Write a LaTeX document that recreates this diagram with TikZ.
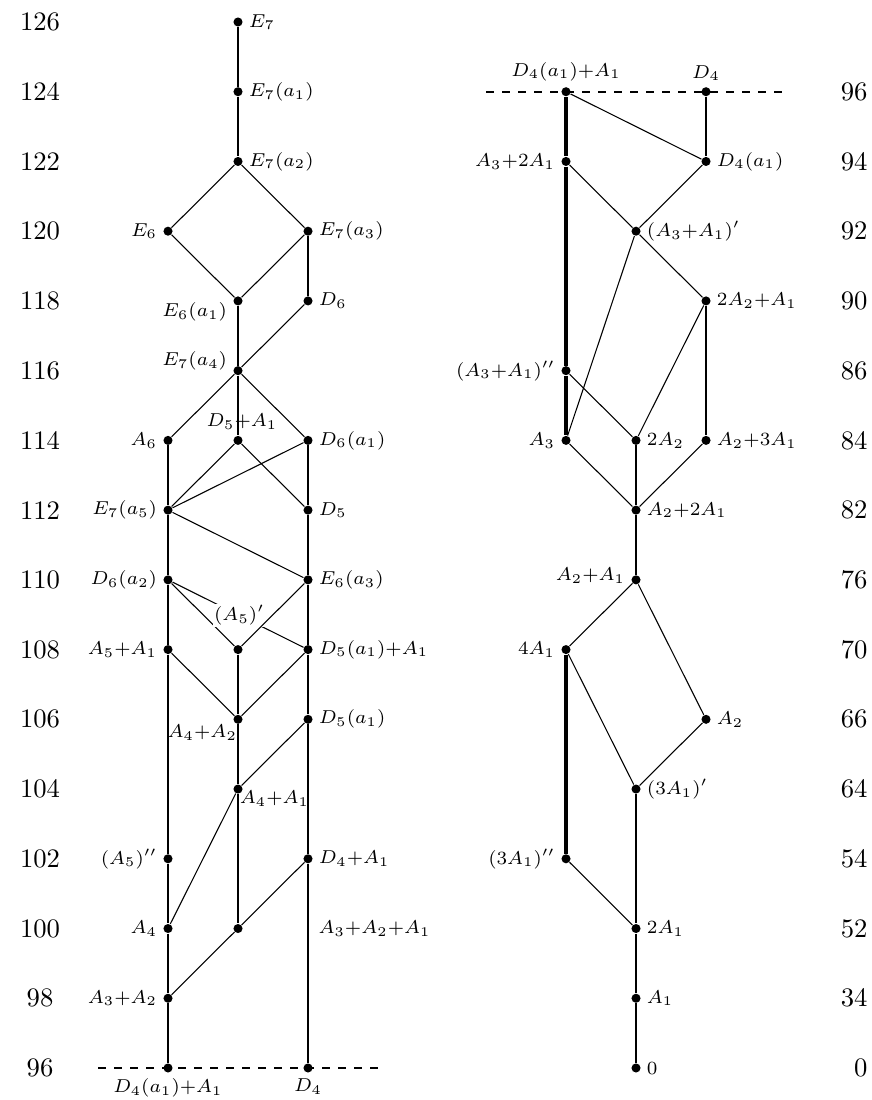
\documentclass[tikz,border=0pt]{standalone}
\newcommand\mylab[1]{$\scriptstyle #1$}
\begin{document}
\begin{tikzpicture}[x={(0.375pt,0)}, y={(0,-26.149pt)},
  dot/.style={circle, fill=black, inner sep=0pt, minimum size=3.4pt},
  lab/.style={inner sep=2pt, font=\normalsize},
  thinedge/.style={line width=0.4pt},
  thickedge/.style={line width=0.9pt},
  vthickedge/.style={line width=1.4pt},
  num/.style={inner sep=0pt, font=\normalsize},
  dashline/.style={dashed, line width=0.6pt},
]
\useasboundingbox (0,-0.3155) rectangle (871,15.4593);

% ---------- left diagram ----------
\node[dot,label={[lab]right:{\mylab{E_7}}}] (e7) at (238,0) {};
\node[dot,label={[lab]right:{\mylab{E_7(a_1)}}}] (e7a1) at (238,1) {};
\node[dot,label={[lab]right:{\mylab{E_7(a_2)}}}] (e7a2) at (238,2) {};
\node[dot,label={[lab]left:{\mylab{E_6}}}] (e6) at (168,3) {};
\node[dot,label={[lab]right:{\mylab{E_7(a_3)}}}] (e7a3) at (308,3) {};
\node[dot,label={[lab,yshift=-4.1pt]left:{\mylab{E_6(a_1)}}}] (e6a1) at (238,4) {};
\node[dot,label={[lab]right:{\mylab{D_6}}}] (d6) at (308,4) {};
\node[dot,label={[lab,yshift=3.7pt]left:{\mylab{E_7(a_4)}}}] (e7a4) at (238,5) {};
\node[dot,label={[lab]left:{\mylab{A_6}}}] (a6) at (168,6) {};
\node[dot,label={[lab,xshift=1.5pt]above:{\mylab{D_5+A_1}}}] (d5pa1) at (238,6) {};
\node[dot,label={[lab]right:{\mylab{D_6(a_1)}}}] (d6a1) at (308,6) {};
\node[dot,label={[lab]left:{\mylab{E_7(a_5)}}}] (e7a5) at (168,7) {};
\node[dot,label={[lab]right:{\mylab{D_5}}}] (d5) at (308,7) {};
\node[dot,label={[lab]left:{\mylab{D_6(a_2)}}}] (d6a2) at (168,8) {};
\node[dot,label={[lab]right:{\mylab{E_6(a_3)}}}] (e6a3) at (308,8) {};
\node[dot,label={[lab]left:{\mylab{A_5+A_1}}}] (a5a1) at (168,9) {};
\node[dot] (a5p) at (238,9) {};
\node[dot,label={[lab]right:{\mylab{D_5(a_1)+A_1}}}] (d5a1a1) at (308,9) {};
\node[dot,label={[lab,xshift=3.7pt,yshift=-4.9pt]left:{\mylab{A_4+A_2}}}] (a4a2) at (238,10) {};
\node[dot,label={[lab]right:{\mylab{D_5(a_1)}}}] (d5a1) at (308,10) {};
\node[dot,label={[lab,xshift=-3.4pt,yshift=-3.7pt]right:{\mylab{A_4+A_1}}}] (a4a1) at (238,11) {};
\node[dot,label={[lab]left:{\mylab{(A_5)''}}}] (a5pp) at (168,12) {};
\node[dot,label={[lab]right:{\mylab{D_4+A_1}}}] (d4pa1) at (308,12) {};
\node[dot,label={[lab]left:{\mylab{A_4}}}] (a4) at (168,13) {};
\node[dot] (a3a2a1) at (238,13) {};
\node[lab,anchor=west,inner sep=0pt] (a3a2a1t) at (318,13) {\mylab{A_3+A_2+A_1}};
\node[dot,label={[lab]left:{\mylab{A_3+A_2}}}] (a3a2) at (168,14) {};
\node[dot,label={[lab]below:{\mylab{D_4(a_1)+A_1}}}] (ld4a1a1) at (168,15) {};
\node[dot,label={[lab]below:{\mylab{D_4}}}] (ld4) at (308,15) {};
\coordinate (dl1) at (98,15);
\coordinate (dl2) at (378,15);

\draw[dashline] (dl1) -- (dl2);
% thick
\draw[thickedge] (e7) -- (e7a1) -- (e7a2);
\draw[thickedge] (e7a3) -- (d6);
\draw[thickedge] (e6a1) -- (e7a4) -- (d5pa1);
\draw[thickedge] (a6) -- (e7a5) -- (d6a2) -- (a5a1) -- (a5pp) -- (a4) -- (a3a2) -- (ld4a1a1);
\draw[thickedge] (d6a1) -- (d5) -- (e6a3) -- (d5a1a1) -- (d5a1) -- (d4pa1) -- (ld4);
\draw[thickedge] (a5p) -- (a4a2) -- (a4a1) -- (a3a2a1);
% thin
\draw[thinedge] (e7a2) -- (e6);
\draw[thinedge] (e7a2) -- (e7a3);
\draw[thinedge] (e6) -- (e6a1);
\draw[thinedge] (e7a3) -- (e6a1);
\draw[thinedge] (d6) -- (e7a4);
\draw[thinedge] (e7a4) -- (a6);
\draw[thinedge] (e7a4) -- (d6a1);
\draw[thinedge] (d5pa1) -- (e7a5);
\draw[thinedge] (d5pa1) -- (d5);
\draw[thinedge] (d6a1) -- (e7a5);
\draw[thinedge] (e7a5) -- (e6a3);
\draw[thinedge] (d6a2) -- (a5p);
\draw[thinedge] (d6a2) -- node[pos=0.51,lab,fill=white,inner sep=0.5pt] (a5plab) {\mylab{(A_5)'}} (d5a1a1);
\draw[thinedge] (e6a3) -- (a5p);
\draw[thinedge] (a5a1) -- (a4a2);
\draw[thinedge] (d5a1a1) -- (a4a2);
\draw[thinedge] (d5a1) -- (a4a1);
\draw[thinedge] (a4a1) -- (a4);
\draw[thinedge] (d4pa1) -- (a3a2a1);
\draw[thinedge] (a3a2a1) -- (a3a2);

% ---------- right diagram ----------
\node[dot,label={[lab]above:{\mylab{D_4(a_1)+A_1}}}] (rd4a1a1) at (566,1) {};
\node[dot,label={[lab]above:{\mylab{D_4}}}] (rd4) at (706,1) {};
\node[dot,label={[lab]left:{\mylab{A_3+2A_1}}}] (a3ta1) at (566,2) {};
\node[dot,label={[lab]right:{\mylab{D_4(a_1)}}}] (rd4a1) at (706,2) {};
\node[dot,label={[lab]right:{\mylab{(A_3+A_1)'}}}] (a3a1p) at (636,3) {};
\node[dot,label={[lab]right:{\mylab{2A_2+A_1}}}] (tta2a1) at (706,4) {};
\node[dot,label={[lab]left:{\mylab{(A_3+A_1)''}}}] (a3a1pp) at (566,5) {};
\node[dot,label={[lab]left:{\mylab{A_3}}}] (ra3) at (566,6) {};
\node[dot,label={[lab]right:{\mylab{2A_2}}}] (tta2) at (636,6) {};
\node[dot,label={[lab]right:{\mylab{A_2+3A_1}}}] (a2tha1) at (706,6) {};
\node[dot,label={[lab]right:{\mylab{A_2+2A_1}}}] (a2twa1) at (636,7) {};
\node[dot,label={[lab,yshift=1.5pt]left:{\mylab{A_2+A_1}}}] (a2a1) at (636,8) {};
\node[dot,label={[lab]left:{\mylab{4A_1}}}] (fa1) at (566,9) {};
\node[dot,label={[lab]right:{\mylab{A_2}}}] (ra2) at (706,10) {};
\node[dot,label={[lab]right:{\mylab{(3A_1)'}}}] (tha1p) at (636,11) {};
\node[dot,label={[lab]left:{\mylab{(3A_1)''}}}] (tha1pp) at (566,12) {};
\node[dot,label={[lab]right:{\mylab{2A_1}}}] (twa1) at (636,13) {};
\node[dot,label={[lab]right:{\mylab{A_1}}}] (ra1) at (636,14) {};
\node[dot,label={[lab]right:{\mylab{0}}}] (zero) at (636,15) {};
\coordinate (dr1) at (486,1);
\coordinate (dr2) at (788,1);

\draw[dashline] (dr1) -- (dr2);
\draw[vthickedge] (rd4a1a1) -- (a3ta1) -- (a3a1pp) -- (ra3);
\draw[vthickedge] (fa1) -- (tha1pp);
\draw[thickedge] (rd4) -- (rd4a1);
\draw[thickedge] (tta2a1) -- (a2tha1);
\draw[thickedge] (tta2) -- (a2twa1) -- (a2a1);
\draw[thickedge] (tha1p) -- (twa1) -- (ra1) -- (zero);
\draw[thinedge] (rd4a1a1) -- (rd4a1);
\draw[thinedge] (a3ta1) -- (a3a1p);
\draw[thinedge] (rd4a1) -- (a3a1p);
\draw[thinedge] (a3a1p) -- (tta2a1);
\draw[thinedge] (a3a1p) -- (ra3);
\draw[thinedge] (tta2a1) -- (tta2);
\draw[thinedge] (a3a1pp) -- (tta2);
\draw[thinedge] (ra3) -- (a2twa1);
\draw[thinedge] (a2tha1) -- (a2twa1);
\draw[thinedge] (a2a1) -- (fa1);
\draw[thinedge] (a2a1) -- (ra2);
\draw[thinedge] (fa1) -- (tha1p);
\draw[thinedge] (ra2) -- (tha1p);
\draw[thinedge] (tha1pp) -- (twa1);

% ---------- row numbers ----------
\foreach \v [count=\i from 0] in {126,124,122,120,118,116,114,112,110,108,106,104,102,100,98,96}
  \node[num] (nl\i) at (40,\i) {\v};
\foreach \v [count=\i from 1] in {96,94,92,90,86,84,82,76,70,66,64,54,52,34,0}
  \node[num,anchor=east] (nr\i) at (868,\i) {\v};
\end{tikzpicture}
\end{document}
